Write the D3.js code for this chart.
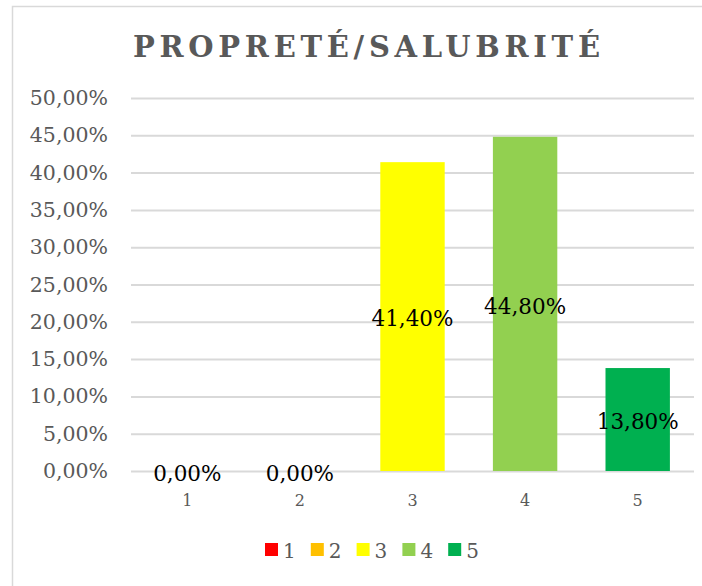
<!DOCTYPE html>
<html>
<head>
<meta charset="utf-8">
<script src="https://cdn.jsdelivr.net/npm/d3@7"></script>
<style>
  body { margin: 0; background: #fff; }
  svg { display: block; font-family: "DejaVu Serif", serif; }
</style>
</head>
<body>
<div id="container"></div>
<script>
const title = "PROPRETÉ/SALUBRITÉ";
const categories = ["1", "2", "3", "4", "5"];
const values = [0, 0, 0.414, 0.448, 0.138];
const colors = ["#FF0000", "#FFC000", "#FFFF00", "#92D050", "#00B050"];
const yTicks = [0, 0.05, 0.1, 0.15, 0.2, 0.25, 0.3, 0.35, 0.4, 0.45, 0.5];

const w = 702, h = 586;
const margin = {top: 98, left: 131, right: 8, bottom: 115};
const graphWidth = w - margin.left - margin.right;
const graphHeight = h - margin.top - margin.bottom;

const fr = d3.formatLocale({decimal: ",", thousands: " ", grouping: [3], currency: ["", " €"]});
const pct = fr.format(".2%");

const svg = d3.select("#container").append("svg").attr("width", w).attr("height", h);

// chart frame (runs off the right and bottom edges)
svg.append("rect")
  .attr("x", 12.5).attr("y", 6.5)
  .attr("width", 740).attr("height", 620)
  .attr("fill", "#fff").attr("stroke", "#d9d9d9").attr("stroke-width", 1.5);

const graph = svg.append("g").attr("transform", `translate(${margin.left}, ${margin.top})`);

const xScale = d3.scaleBand()
  .domain(categories)
  .range([0, graphWidth])
  .paddingInner(0.428)
  .paddingOuter(0.214);

const yScale = d3.scaleLinear()
  .domain([0, 0.5])
  .range([graphHeight, 0]);

// y axis + gridlines
const yAxis = d3.axisLeft(yScale)
  .tickValues(yTicks)
  .tickSize(-graphWidth)
  .tickPadding(23)
  .tickFormat(pct);
const yAxisGroup = graph.append("g").call(yAxis);
yAxisGroup.select(".domain").remove();
yAxisGroup.selectAll("line").attr("stroke", "#d9d9d9").attr("stroke-width", 2);
yAxisGroup.selectAll("text")
  .attr("fill", "#595959")
  .style("font-size", "20.5px")
  .style("font-family", "DejaVu Serif");

// bars
graph.selectAll("rect.bar")
  .data(values)
  .enter()
  .append("rect")
    .attr("class", "bar")
    .attr("x", (d, i) => xScale(categories[i]))
    .attr("y", d => yScale(d))
    .attr("width", xScale.bandwidth())
    .attr("height", d => graphHeight - yScale(d))
    .attr("fill", (d, i) => colors[i]);

// x axis
const xAxis = d3.axisBottom(xScale).tickSize(0).tickPadding(24);
const xAxisGroup = graph.append("g").attr("transform", `translate(0, ${graphHeight})`).call(xAxis);
xAxisGroup.select(".domain").remove();
xAxisGroup.selectAll("text")
  .attr("fill", "#595959")
  .style("font-size", "16px")
  .style("font-family", "DejaVu Serif");

// data labels, centred in the bars
graph.selectAll("text.label")
  .data(values)
  .enter()
  .append("text")
    .attr("class", "label")
    .attr("x", (d, i) => xScale(categories[i]) + xScale.bandwidth() / 2)
    .attr("y", d => (yScale(d) + graphHeight) / 2 + 2)
    .attr("dy", "0.36em")
    .attr("text-anchor", "middle")
    .attr("fill", "#000")
    .style("font-size", "21.5px")
    .text(d => pct(d));

// title
const titleText = svg.append("text")
  .attr("x", 133).attr("y", 57)
  .attr("fill", "#595959")
  .style("font-size", "29px")
  .style("font-weight", "bold")
  .text(title);
const natural = titleText.node().getComputedTextLength();
titleText.style("letter-spacing", ((467 - natural) / (title.length - 1)) + "px");

// legend
const legend = svg.append("g").attr("transform", "translate(265, 543)");
const items = legend.selectAll("g")
  .data(categories)
  .enter()
  .append("g")
    .attr("transform", (d, i) => `translate(${i * 45.8}, 0)`);
items.append("rect")
  .attr("width", 13).attr("height", 13)
  .attr("fill", (d, i) => colors[i]);
items.append("text")
  .attr("x", 18).attr("y", 15)
  .attr("fill", "#595959")
  .style("font-size", "20px")
  .text(d => d);
</script>
</body>
</html>
